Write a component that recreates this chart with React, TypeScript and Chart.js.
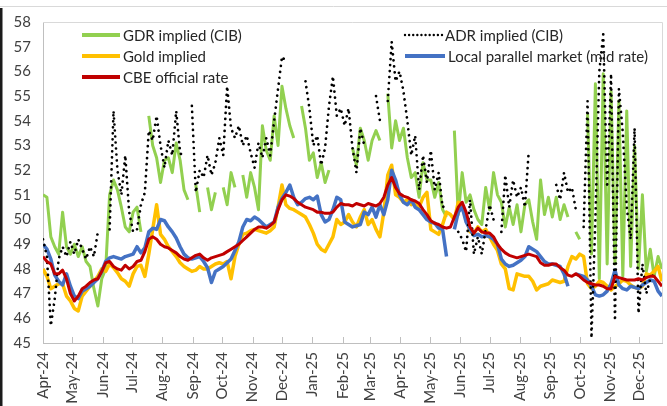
import React, { useEffect, useRef } from "react";
import { Chart, registerables } from "chart.js";

Chart.register(...registerables);

// ---- data (one value every 4 days from 1 Apr 2024) ----
const START_UTC = Date.UTC(2024, 3, 1);
const STEP_DAYS = 4;

const MONTH_LABELS = [
  "Apr-24", "May-24", "Jun-24", "Jul-24", "Aug-24", "Sep-24", "Oct-24", "Nov-24", "Dec-24",
  "Jan-25", "Feb-25", "Mar-25", "Apr-25", "May-25", "Jun-25", "Jul-25", "Aug-25", "Sep-25",
  "Oct-25", "Nov-25", "Dec-25",
];

const CBE = [
  48.5, 48.3, 48.2, 47.8, 47.8, 47.95, 47.6, 47.0, 46.7, 46.9,
  47.2, 47.3, 47.45, 47.55, 47.6, 47.9, 48.25, 48.3, 48.1, 48.0,
  47.95, 48.15, 48.0, 48.1, 48.3, 48.35, 48.7, 49.2, 49.3, 49.2,
  49.0, 48.9, 48.85, 48.75, 48.65, 48.5, 48.4, 48.35, 48.45, 48.55,
  48.6, 48.45, 48.35, 48.45, 48.5, 48.55, 48.6, 48.7, 48.8, 48.9,
  49.0, 49.15, 49.3, 49.45, 49.6, 49.7, 49.7, 49.65, 49.75, 49.9,
  50.4, 50.8, 51.0, 50.95, 50.85, 50.7, 50.6, 50.5, 50.45, 50.4,
  50.3, 50.3, 50.25, 50.25, 50.3, 50.5, 50.65, 50.6, 50.6, 50.55,
  50.65, 50.6, 50.55, 50.65, 50.6, 50.55, 50.65, 50.9, 51.4, 51.7,
  51.3, 51.05, 50.95, 50.9, 50.8, 50.75, 50.65, 50.4, 50.2, 49.95,
  49.85, 49.8, 49.7, 49.65, 49.7, 50.1, 50.5, 50.7, 50.3, 49.7,
  49.45, 49.65, 49.5, 49.45, 49.45, 49.3, 49.0, 48.8, 48.65, 48.55,
  48.5, 48.45, 48.5, 48.55, 48.6, 48.55, 48.5, 48.25, 48.15, 48.15,
  48.2, 48.2, 48.05, 47.95, 47.75, 47.7, 47.8, 47.7, 47.55, 47.45,
  47.4, 47.35, 47.35, 47.3, 47.2, 47.2, 47.7, 47.65, 47.6, 47.55,
  47.55, 47.55, 47.6, 47.55, 47.65, 47.7, 47.7, 47.5, 47.3,
];

const LOCAL = [
  49.0, 48.8, 48.4, 47.75, 47.5, 47.35, 47.8, 47.3, 46.9, 46.8,
  47.1, 47.2, 47.3, 47.45, 47.6, 47.9, 48.3, 48.45, 48.5, 48.45,
  48.4, 48.5, 48.55, 48.6, 48.9, 48.65, 48.85, 49.5, 49.65, 49.6,
  50.0, 49.95, 49.7, 49.5, 49.25, 48.9, 48.6, 48.45, 48.4, 48.45,
  48.5, 48.3, 48.05, 47.45, 47.9, 48.0, 48.1, 48.25, 48.4, 48.75,
  49.1, 49.7, 50.0, 49.95, 50.1, 50.0, 49.85, 49.7, 49.8, 49.9,
  50.5, 50.85, 51.1, 51.4, 50.9, 50.6, 50.7, 50.85, 50.9, 50.8,
  50.95, 50.2, 49.9, 50.0, 50.4, 50.9, 50.8, 49.9, 49.8, 49.7,
  49.75, 49.8, 50.3, 50.2, 50.5, 50.1, 50.6, 50.2, 50.8, 52.0,
  51.6, 51.0, 50.7, 50.6, 50.8, 50.5, 50.4, 50.2, 50.0, 49.9,
  49.85, 49.65, 49.6, 48.5, null, 49.6, 50.3, 50.5, 49.9, 49.6,
  49.35, 49.4, 49.3, 49.35, 49.3, 49.2, 49.0, 48.4, 48.2, 48.1,
  48.15, 48.25, 48.35, 48.5, 48.9, 48.8, 48.7, 48.5, 48.3, 48.2,
  48.2, 48.15, 48.1, 47.8, 47.3, null, 47.8, 47.75, 47.7, 47.55,
  47.3, 46.95, 46.9, 46.95, 47.1, 47.4, 47.95, 47.35, 47.2, 47.15,
  47.3, 47.25, 47.2, 47.35, 47.45, 47.55, 47.5, 47.1, 46.9,
];

const GOLD = [
  48.0, 47.7, 47.2, 47.3, 47.4, 47.4, 46.9, 46.7, 46.4, 46.3,
  46.9, 47.1, 47.3, 47.5, 47.7, 48.0, 47.9, 48.2, 48.05, 47.85,
  47.6, 47.5, 47.3, 47.8, 48.1, 48.15, 47.7, 48.6, 49.6, 50.6,
  49.4, 49.2, 48.9, 48.7, 48.5, 48.25, 48.1, 48.0, 47.9, 47.95,
  48.1, 48.0, 48.0, 48.1, 48.2, 48.25, 48.2, 48.3, 47.6, 48.5,
  49.0, 49.4, 49.45, 49.55, 49.6, 49.55, 49.5, 49.45, 49.55, 49.7,
  50.5, 51.4, 50.6, 50.45, 50.4, 50.3, 50.2, 50.1, 49.8, 49.45,
  49.0, 48.8, 48.7, 49.0, 49.3, 50.0, 49.8, 49.9, 50.2, 49.9,
  49.7, 50.1, 50.4, 49.8, 50.0, 49.6, 49.3, 50.3, 51.8, 52.2,
  51.0, 50.9, 50.7, 50.8, 50.6, 50.7, 50.5, 50.9, 51.1, 49.6,
  49.5, 49.4, 49.8, 50.3, 50.2, 50.0, 50.7, 50.6, 50.1, 49.5,
  49.45, 49.7, 49.5, 49.6, 49.3, 49.0, 48.75, 48.2, 48.0, 47.2,
  47.15, 47.8, 47.75, 47.7, 47.7, 47.5, 47.15, 47.3, 47.35, 47.4,
  47.55, 47.5, 47.45, 47.5, 48.1, 48.5, 48.4, 48.6, 48.5, 47.4,
  47.2, 47.3, 47.5, 47.45, 47.3, 47.15, 47.3, 47.4, 47.55, 47.5,
  47.35, 47.25, 47.2, 47.3, 47.8, 47.75, 47.9, 48.1, 47.5,
];

const GDR = [
  51.0, 50.9, 49.3, 48.9, 48.6, 50.3, 48.9, 48.6, 49.0, 48.5,
  48.9, 48.3, 48.1, 47.2, 46.5, 47.6, 48.0, 51.0, 51.6, 51.2,
  50.5, 49.7, 49.5, 50.3, 50.5, 49.5, null, 54.2, 53.0, 52.5,
  51.5, 52.4, 52.5, 51.9, 53.1, 52.4, 51.2, 50.8, null, 51.4,
  50.3, null, 51.3, 50.4, 51.1, null, 51.3, 50.6, 51.9, 51.3,
  null, 51.8, 50.9, 51.9, 51.3, 50.4, 53.8, 52.8, 52.4, 54.2,
  53.0, 55.4, 54.5, 53.8, 53.3, null, 54.6, 53.7, 52.4, 52.7,
  51.7, 52.3, 51.5, 52.0, null, null, null, null, null, 52.9,
  52.2, 53.7, 53.2, 52.4, 53.2, 53.6, 53.2, null, 55.1, 52.9,
  54.0, 53.2, 53.7, 52.5, 51.7, 51.9, 50.9, 52.3, 51.6, 51.6,
  50.9, 51.5, 50.4, 50.1, null, 53.6, 50.2, 51.9, 50.7, 51.0,
  50.4, 50.0, 49.8, 51.3, 50.4, 51.9, 51.0, 50.7, 49.7, 50.5,
  49.8, 50.6, 49.5, 50.6, 50.8, 49.9, 49.2, 51.6, 50.2, 50.9,
  50.1, 50.9, 50.0, 50.6, 50.1, null, 49.5, 49.2, null, 54.3,
  48.6, 55.5, 47.6, 55.9, 48.2, 55.2, 48.2, 54.8, 47.7, 54.4,
  48.1, 53.0, 48.0, 51.0, 47.9, 48.8, 47.7, 48.5, 48.0,
];

const ADR = [
  49.2, 48.5, 45.7, 46.8, 48.4, 48.9, 48.5, 49.1, 48.6, 49.2,
  48.8, 48.4, 48.9, 48.5, 49.5, null, null, 49.6, 54.4, 52.0,
  51.0, 52.6, 50.3, 49.5, 49.6, 50.6, 51.1, 53.6, 53.2, 54.2,
  53.0, 52.1, 53.2, 52.6, 54.4, 52.7, 52.5, null, 54.6, 51.1,
  52.0, 51.7, 52.6, 51.8, 52.3, 53.3, 52.6, 55.4, 53.7, 53.3,
  53.8, 53.0, 53.4, 52.7, 52.1, 53.1, 52.5, 53.3, 52.6, 54.0,
  55.3, 56.6, 56.4, null, 55.9, null, null, 55.6, 54.5, 53.0,
  53.4, 52.2, 52.9, 54.6, 55.8, 54.2, 54.5, 53.8, 54.5, 52.9,
  51.9, 53.7, 53.0, null, null, 55.0, 54.0, null, 54.8, 57.2,
  55.6, 56.0, 55.2, 54.0, 52.6, 53.4, 51.2, 52.6, 51.5, 52.8,
  51.2, 51.9, 50.5, 50.6, null, null, 49.5, 49.2, 48.7, 50.8,
  48.6, 49.3, 48.6, 49.6, 50.6, 50.0, null, 49.5, 51.8, 50.5,
  51.6, 50.9, 51.3, 50.5, 52.8, null, null, null, null, null,
  null, 51.4, 50.8, 51.9, 51.1, 51.3, 50.4, null, 49.7, 54.8,
  45.2, 50.0, 56.0, 57.5, 51.3, 55.9, 45.9, 55.3, 53.5, 50.5,
  49.2, 53.7, 46.2, 48.2, 47.0, 47.6, 47.8, null, null,
];

// ---- helpers ----
const DAY_MS = 86400000;
const MONTH_DAYS = MONTH_LABELS.map(
  (_, k) => Math.round((Date.UTC(2024, 3 + k, 1) - START_UTC) / DAY_MS)
);
const X_MAX = 632;

const toPoints = (vals: (number | null)[]) =>
  vals.map((v, i) => ({ x: i * STEP_DAYS, y: v }));

const FONT = "Lato, 'Open Sans', sans-serif";

const legendLayout = [
  { ds: 0, x1: 82, x2: 120, y: 35 },
  { ds: 1, x1: 82, x2: 120, y: 56 },
  { ds: 2, x1: 82, x2: 120, y: 77 },
  { ds: 3, x1: 405, x2: 442, y: 35 },
  { ds: 4, x1: 405, x2: 445, y: 56 },
];

const decorPlugin = {
  id: "decor",
  afterDraw(chart: any) {
    const { ctx, chartArea } = chart;
    const { left, right, top, bottom } = chartArea;
    ctx.save();
    // outer frame line at top of image
    ctx.strokeStyle = "#D9D9D9";
    ctx.lineWidth = 1;
    ctx.beginPath();
    ctx.moveTo(0, 6.5);
    ctx.lineTo(chart.width, 6.5);
    ctx.stroke();
    // plot box top & right
    ctx.beginPath();
    ctx.moveTo(left, top + 0.5);
    ctx.lineTo(right + 0.5, top + 0.5);
    ctx.lineTo(right + 0.5, bottom);
    ctx.stroke();
    // inner tick marks on x axis
    const xs = chart.scales.x;
    ctx.strokeStyle = "#BFBFBF";
    MONTH_DAYS.forEach((d) => {
      const px = Math.round(xs.getPixelForValue(d)) + 0.5;
      ctx.beginPath();
      ctx.moveTo(px, bottom);
      ctx.lineTo(px, bottom - 6);
      ctx.stroke();
    });
    // left dark strip
    ctx.fillStyle = "#1b1b1b";
    ctx.fillRect(0, 8, 2.5, chart.height - 8);

    // legend
    ctx.font = `15px ${FONT}`;
    ctx.textBaseline = "middle";
    ctx.textAlign = "left";
    legendLayout.forEach((it) => {
      const ds = chart.data.datasets[it.ds];
      ctx.save();
      ctx.strokeStyle = ds.borderColor;
      if (ds.borderDash && ds.borderDash.length) {
        ctx.lineWidth = 2.4;
        ctx.lineCap = "round";
        ctx.setLineDash([0.01, 4.1]);
      } else {
        ctx.lineWidth = 4;
        ctx.lineCap = "butt";
      }
      ctx.beginPath();
      ctx.moveTo(it.x1, it.y);
      ctx.lineTo(it.x2, it.y);
      ctx.stroke();
      ctx.restore();
      ctx.fillStyle = "#262626";
      ctx.fillText(ds.label, it.x2 + 3, it.y + 1);
    });
    ctx.restore();
  },
};

export default function App() {
  const ref = useRef<HTMLCanvasElement | null>(null);

  useEffect(() => {
    document.body.style.margin = "0";
    const canvas = ref.current;
    if (!canvas) return;
    const common = {
      pointRadius: 0,
      pointHoverRadius: 0,
      fill: false,
      tension: 0,
      spanGaps: false,
      borderJoinStyle: "round" as const,
    };
    const chart = new Chart(canvas, {
      type: "line",
      data: {
        datasets: [
          { ...common, label: "GDR implied (CIB)", data: toPoints(GDR), borderColor: "#92D050", borderWidth: 3, order: 5 },
          { ...common, label: "Gold implied", data: toPoints(GOLD), borderColor: "#FFC000", borderWidth: 3.5, order: 4 },
          { ...common, label: "CBE official rate", data: toPoints(CBE), borderColor: "#C00000", borderWidth: 3, order: 1 },
          {
            ...common,
            label: "ADR implied (CIB)",
            data: toPoints(ADR),
            borderColor: "#000000",
            borderWidth: 2.7,
            borderDash: [0.01, 6],
            borderCapStyle: "round",
            order: 2,
          },
          { ...common, label: "Local parallel market (mid rate)", data: toPoints(LOCAL), borderColor: "#4472C4", borderWidth: 3.5, order: 3 },
        ],
      },
      options: {
        animation: false,
        responsive: false,
        devicePixelRatio: 1,
        events: [],
        layout: { padding: { top: 22, right: 5, left: 0, bottom: 0 } },
        plugins: {
          legend: { display: false },
          tooltip: { enabled: false },
          title: { display: false },
        },
        scales: {
          x: {
            type: "linear",
            min: 0,
            max: X_MAX,
            afterBuildTicks: (s: any) => {
              s.ticks = MONTH_DAYS.map((v) => ({ value: v }));
            },
            afterFit: (s: any) => {
              s.height = 63;
            },
            ticks: {
              autoSkip: false,
              minRotation: 90,
              maxRotation: 90,
              padding: 9,
              color: "#404040",
              font: { family: FONT, size: 15 },
              callback: (_v: any, i: number) => MONTH_LABELS[i],
            },
            grid: { display: false, drawTicks: false },
            border: { display: true, color: "#BFBFBF", width: 1 },
          },
          y: {
            min: 45,
            max: 58,
            afterFit: (s: any) => {
              s.width = 43;
            },
            ticks: {
              stepSize: 1,
              padding: 12,
              color: "#404040",
              font: { family: FONT, size: 15 },
            },
            grid: { display: false, drawTicks: false },
            border: { display: true, color: "#BFBFBF", width: 1 },
          },
        },
      },
      plugins: [decorPlugin],
    } as any);
    return () => chart.destroy();
  }, []);

  return (
    <div style={{ position: "absolute", left: 0, top: 0, width: 667, height: 406, background: "#fff" }}>
      <canvas ref={ref} width={667} height={406} style={{ width: 667, height: 406, display: "block" }} />
    </div>
  );
}
